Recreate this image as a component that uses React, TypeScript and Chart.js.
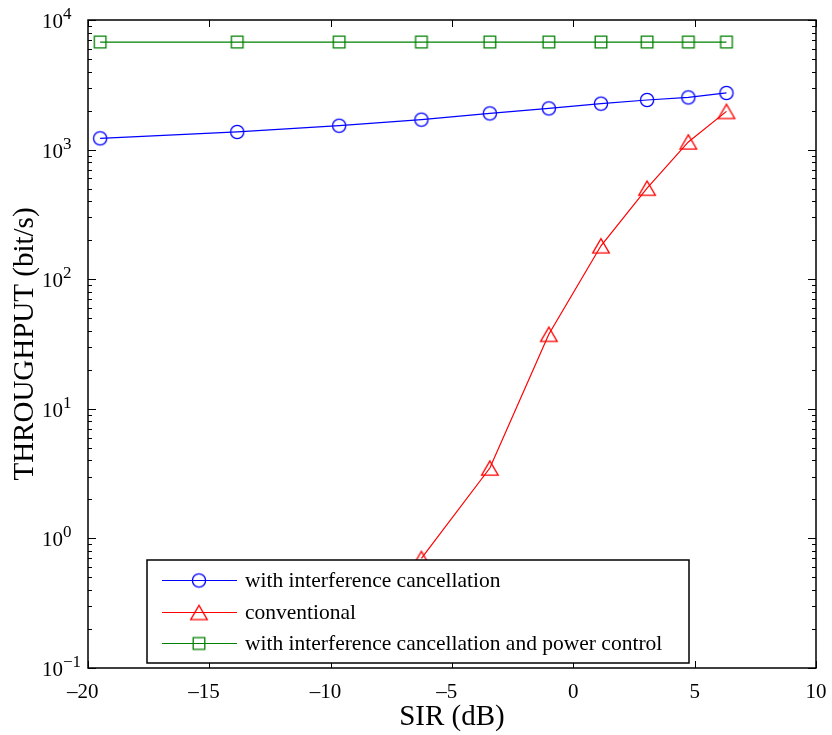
import React, { useEffect, useRef } from 'react';
import { Chart, registerables } from 'chart.js';

Chart.register(...registerables);

// ---- data ----
const sirDb = [-19.5, -13.85, -9.65, -6.26, -3.44, -1.01, 1.14, 3.04, 4.74, 6.31];
const withIc = [1222, 1368, 1529, 1702, 1902, 2080, 2261, 2415, 2529, 2735];
const conventional: (number | null)[] = [null, null, null, 0.7, 3.49, 37.6, 181, 504, 1146, 1972];
const withIcPc = [6760, 6760, 6760, 6760, 6760, 6760, 6760, 6760, 6760, 6760];

const seriesLabels = [
  'with interference cancellation',
  'conventional',
  'with interference cancellation and power control',
];
const seriesColors = ['#0000ff', '#ff0000', '#008000'];

const xTickValues = [-20, -15, -10, -5, 0, 5, 10];
const yTickExponents = [-1, 0, 1, 2, 3, 4];
const xTitle = 'SIR (dB)';
const yTitle = 'THROUGHPUT (bit/s)';

const FONT = '"Liberation Serif", "Times New Roman", serif';

function makeMarker(kind: 'circle' | 'triangle' | 'square', color: string): HTMLCanvasElement {
  const c = document.createElement('canvas');
  c.width = 20;
  c.height = 20;
  const g = c.getContext('2d')!;
  g.strokeStyle = color;
  g.lineWidth = 1.3;
  g.beginPath();
  if (kind === 'circle') {
    g.arc(10, 10, 6.6, 0, Math.PI * 2);
  } else if (kind === 'square') {
    g.rect(10 - 5.8, 10 - 5.8, 11.6, 11.6);
  } else {
    const hw = 8.3, hh = 7.1;
    g.moveTo(10, 10 - hh);
    g.lineTo(10 + hw, 10 + hh);
    g.lineTo(10 - hw, 10 + hh);
    g.closePath();
  }
  g.stroke();
  return c;
}

export default function App() {
  const ref = useRef<HTMLCanvasElement>(null);

  useEffect(() => {
    const canvas = ref.current;
    if (!canvas) return;
    const markers = [
      makeMarker('circle', seriesColors[0]),
      makeMarker('triangle', seriesColors[1]),
      makeMarker('square', seriesColors[2]),
    ];

    const axesPlugin = {
      id: 'matlabAxes',
      afterDraw(chart: any) {
        const { ctx, chartArea: a, scales } = chart;
        const xs = scales.x;
        const ys = scales.y;
        ctx.save();
        ctx.strokeStyle = '#000';
        ctx.fillStyle = '#000';
        ctx.lineWidth = 1;

        // tick marks
        ctx.beginPath();
        for (const v of xTickValues) {
          const px = Math.round(xs.getPixelForValue(v)) + 0.5;
          ctx.moveTo(px, a.bottom);
          ctx.lineTo(px, a.bottom - 7);
          ctx.moveTo(px, a.top);
          ctx.lineTo(px, a.top + 7);
        }
        const eMin = yTickExponents[0];
        const eMax = yTickExponents[yTickExponents.length - 1];
        for (let e = eMin; e <= eMax; e++) {
          for (let m = 1; m <= 9; m++) {
            if (e === eMax && m > 1) break;
            const v = m * Math.pow(10, e);
            const py = Math.round(ys.getPixelForValue(v)) + 0.5;
            const len = m === 1 ? 8 : 4;
            ctx.moveTo(a.left, py);
            ctx.lineTo(a.left + len, py);
            ctx.moveTo(a.right, py);
            ctx.lineTo(a.right - len, py);
          }
        }
        ctx.stroke();

        // box
        ctx.lineWidth = 1.5;
        ctx.strokeRect(a.left, a.top, a.right - a.left, a.bottom - a.top);

        // x tick labels
        ctx.font = `21px ${FONT}`;
        ctx.textBaseline = 'alphabetic';
        for (const v of xTickValues) {
          const px = xs.getPixelForValue(v);
          const digits = String(Math.abs(v));
          const w = ctx.measureText(digits).width;
          ctx.textAlign = 'left';
          ctx.fillText(digits, px - w / 2, a.bottom + 30);
          if (v < 0) {
            ctx.textAlign = 'right';
            ctx.fillText('\u2013', px - w / 2, a.bottom + 30);
          }
        }

        // y tick labels: 10 with superscript exponent
        for (const e of yTickExponents) {
          const py = ys.getPixelForValue(Math.pow(10, e));
          ctx.font = `21px ${FONT}`;
          ctx.textAlign = 'right';
          ctx.fillText('10', a.left - 25, py + 8);
          ctx.font = `17px ${FONT}`;
          ctx.textAlign = 'left';
          const s = e < 0 ? '\u2212' + String(-e) : String(e);
          ctx.fillText(s, a.left - 25, py - 1);
        }

        // axis titles
        ctx.font = `29px ${FONT}`;
        ctx.textAlign = 'center';
        ctx.fillText(xTitle, (a.left + a.right) / 2, a.bottom + 57);
        ctx.save();
        ctx.translate(a.left - 55, (a.top + a.bottom) / 2);
        ctx.rotate(-Math.PI / 2);
        ctx.fillText(yTitle, 0, 0);
        ctx.restore();

        // legend
        const lx = a.left + 59;
        const lw = 542;
        const lh = 103;
        const ly = a.bottom - 5 - lh;
        ctx.fillStyle = '#fff';
        ctx.fillRect(lx, ly, lw, lh);
        ctx.lineWidth = 1.5;
        ctx.strokeStyle = '#000';
        ctx.strokeRect(lx, ly, lw, lh);
        ctx.font = `21.5px ${FONT}`;
        ctx.textAlign = 'left';
        for (let i = 0; i < seriesLabels.length; i++) {
          const ry = ly + 20 + i * 31.5;
          ctx.strokeStyle = seriesColors[i];
          ctx.lineWidth = 1.2;
          ctx.beginPath();
          ctx.moveTo(lx + 15, Math.round(ry) + 0.5);
          ctx.lineTo(lx + 90, Math.round(ry) + 0.5);
          ctx.stroke();
          const mk = markers[i];
          ctx.drawImage(mk, lx + 52 - mk.width / 2, Math.round(ry) + 0.5 - mk.height / 2);
          ctx.fillStyle = '#000';
          ctx.fillText(seriesLabels[i], lx + 98, ry + 7);
        }
        ctx.restore();
      },
    };

    const makeDs = (i: number, data: (number | null)[]) => ({
      label: seriesLabels[i],
      data: sirDb.map((x, k) => ({ x, y: data[k] })),
      borderColor: seriesColors[i],
      backgroundColor: 'rgba(0,0,0,0)',
      borderWidth: 1.2,
      pointStyle: markers[i],
      pointRadius: 7,
      pointHoverRadius: 7,
      tension: 0,
      spanGaps: false,
    });

    const chart = new Chart(canvas, {
      type: 'line',
      data: {
        datasets: [makeDs(0, withIc), makeDs(1, conventional), makeDs(2, withIcPc)],
      },
      options: {
        animation: false,
        responsive: false,
        devicePixelRatio: 1,
        layout: { padding: { left: 88, top: 20, right: 16, bottom: 67 } },
        plugins: { legend: { display: false }, tooltip: { enabled: false } },
        events: [],
        scales: {
          x: { type: 'linear', min: -20, max: 10, display: false },
          y: { type: 'logarithmic', min: 0.1, max: 10000, display: false },
        },
      } as any,
      plugins: [axesPlugin],
    });
    return () => chart.destroy();
  }, []);

  return (
    <div style={{ position: 'absolute', left: 0, top: 0, width: 832, height: 735, background: '#fff' }}>
      <canvas ref={ref} width={832} height={735} style={{ width: 832, height: 735, display: 'block' }} />
    </div>
  );
}
